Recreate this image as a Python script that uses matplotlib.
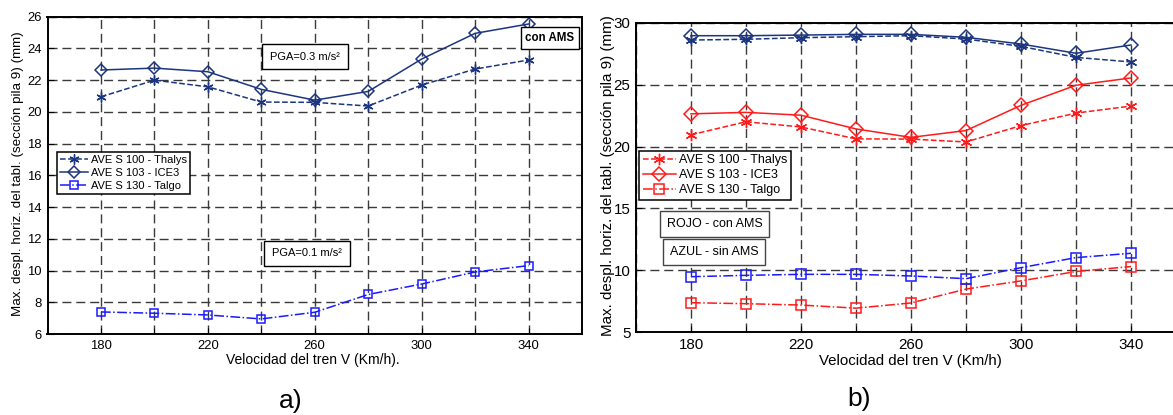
import matplotlib
matplotlib.use("Agg")
import matplotlib.pyplot as plt
from matplotlib.ticker import MultipleLocator

plt.rcParams['font.family'] = ['Liberation Sans', 'DejaVu Sans']

# train speed (Km/h)
speed = [180, 200, 220, 240, 260, 280, 300, 320, 340]

# con AMS (a) and red curves of b))
thalys_con = [20.95, 22.0, 21.58, 20.62, 20.6, 20.37, 21.69, 22.7, 23.27]
ice3_con = [22.64, 22.76, 22.53, 21.42, 20.74, 21.29, 23.33, 24.95, 25.54]
talgo_con = [7.39, 7.31, 7.2, 6.95, 7.37, 8.49, 9.15, 9.91, 10.31]

# sin AMS (blue curves of b))
thalys_sin = [28.6, 28.66, 28.79, 28.87, 28.95, 28.68, 28.09, 27.2, 26.83]
ice3_sin = [28.95, 28.95, 29.0, 29.06, 29.06, 28.82, 28.28, 27.53, 28.2]
talgo_sin = [9.49, 9.6, 9.68, 9.68, 9.55, 9.33, 10.22, 11.03, 11.38]

labels = ["AVE S 100 - Thalys", "AVE S 103 - ICE3", "AVE S 130 - Talgo"]

NAVY = "#1c3580"
BLUE = "#1a1aff"
RED = "#ff1a1a"
GRID = "#3a3a3a"

ylab = "Max. despl. horiz. del tabl. (sección pila 9) (mm)"

W, H = 1173, 415
fig = plt.figure(figsize=(W / 100, H / 100), dpi=100)


def px(x0, y0, x1, y1):
    # pixel box (from top-left) -> figure rect
    return [x0 / W, 1 - y1 / H, (x1 - x0) / W, (y1 - y0) / H]


def setup(ax, ylo, yhi, ystep, fs):
    ax.set_xlim(160, 360)
    ax.set_ylim(ylo, yhi)
    ax.xaxis.set_minor_locator(MultipleLocator(20))
    ax.set_xticks([180, 220, 260, 300, 340])
    ax.yaxis.set_major_locator(MultipleLocator(ystep))
    ax.grid(True, which='both', axis='x', color=GRID, ls=(0, (6.5, 3.5)), lw=1)
    ax.grid(True, which='major', axis='y', color=GRID, ls=(0, (6.5, 3.5)), lw=1)
    ax.tick_params(which='both', direction='in', labelsize=fs, pad=4, length=4)
    for s in ax.spines.values():
        s.set_linewidth(1.4)
    ax.set_axisbelow(True)


def curves(ax, th, ic, tg, c1, c2, ms):
    l1, = ax.plot(speed, th, ls='--', color=c1, marker=(6, 2, 0), ms=ms + 1, lw=1.1)
    l2, = ax.plot(speed, ic, ls='-', color=c1, marker='D', ms=ms, mfc='none', mew=1.1, lw=1.1)
    l3, = ax.plot(speed, tg, ls='-.', color=c2, marker='s', ms=ms, mfc='none', mew=1.1, lw=1.1)
    return [l1, l2, l3]


def boxed(x, y, s, fs, bold=False, ec='black', pad=0.55):
    fig.text(x / W, 1 - y / H, s, fontsize=fs, ha='center', va='center',
             fontweight='bold' if bold else 'normal',
             bbox=dict(boxstyle='square,pad=%s' % pad, fc='white', ec=ec, lw=1))


# ---- a) ----
axa = fig.add_axes(px(47.5, 16.7, 582, 334))
setup(axa, 6, 26, 2, 9.4)
h = curves(axa, thalys_con, ice3_con, talgo_con, NAVY, BLUE, 6.2)
axa.legend(h, labels, loc='upper left', bbox_to_anchor=(56.7 / W, 1 - 151.7 / H),
           bbox_transform=fig.transFigure, fontsize=8, handlelength=2.5,
           handletextpad=0.3, borderpad=0.3, labelspacing=0.25, borderaxespad=0,
           fancybox=False, framealpha=1, edgecolor='black')
axa.get_legend().get_frame().set_linewidth(1.1)
fig.text(18 / W, 1 - 174 / H, ylab, rotation=90, fontsize=9.6, ha='center', va='center')
fig.text(313 / W, 1 - 360 / H, "Velocidad del tren V (Km/h).", fontsize=10,
         ha='center', va='center')
boxed(305, 56.5, "PGA=0.3 m/s²", 8, pad=0.7)
boxed(307, 253.5, "PGA=0.1 m/s²", 8, pad=0.7)
boxed(550, 37.7, "con AMS", 8.3, bold=True, pad=0.42)
fig.text(291 / W, 1 - 401 / H, "a)", fontsize=19, ha='center', va='center')

# ---- b) ----
axb = fig.add_axes(px(636, 22.7, 1186, 332.3))
setup(axb, 5, 30, 5, 10.9)
h = curves(axb, thalys_con, ice3_con, talgo_con, RED, RED, 7.2)
curves(axb, thalys_sin, ice3_sin, talgo_sin, NAVY, BLUE, 7.2)
axb.legend(h, labels, loc='upper left', bbox_to_anchor=(639.3 / W, 1 - 150.7 / H),
           bbox_transform=fig.transFigure, fontsize=9, handlelength=2.6,
           handletextpad=0.3, borderpad=0.3, labelspacing=0.22, borderaxespad=0,
           fancybox=False, framealpha=1, edgecolor='black')
axb.get_legend().get_frame().set_linewidth(1.1)
fig.text(608 / W, 1 - 176 / H, ylab, rotation=90, fontsize=10.9, ha='center', va='center')
fig.text(910 / W, 1 - 361 / H, "Velocidad del tren V (Km/h)", fontsize=10.8,
         ha='center', va='center')
boxed(714.5, 224, "ROJO - con AMS", 9.0, ec='#444444', pad=0.55)
boxed(714, 252, "AZUL - sin AMS", 9.0, ec='#444444', pad=0.55)
fig.text(859 / W, 1 - 399 / H, "b)", fontsize=19, ha='center', va='center')

fig.savefig("out.png", dpi=100)
